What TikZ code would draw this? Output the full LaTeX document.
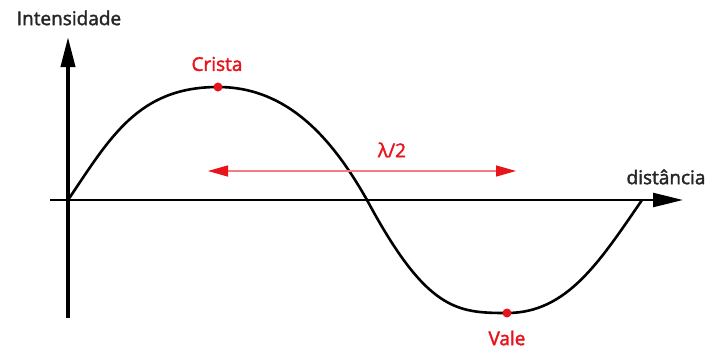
\documentclass[tikz,border=0pt]{standalone}
\usepackage{fontspec}
\setmainfont{Open Sans}
\newfontfamily\lblfont{Open Sans}[FakeBold=2]
\usetikzlibrary{arrows.meta}
\definecolor{wred}{HTML}{E8141B}
\definecolor{lred}{HTML}{F27C82}
\tikzset{
  lbl/.style={font=\lblfont\fontsize{19}{22}\selectfont, inner sep=0pt, text=black!85},
  redlbl/.style={lbl, text=wred},
  axis/.style={black, -{Triangle[length=30pt,width=14pt]}},
  dot/.style={circle, fill=wred, inner sep=0pt, minimum size=9pt},
}
\begin{document}
\begin{tikzpicture}[x=1pt,y=-1pt]
\useasboundingbox (0,0) rectangle (712,351);
\fill[white] (0,0) rectangle (712,351);
% axes
\coordinate (ybot) at (68,318);
\coordinate (ytop) at (68,37);
\coordinate (xl) at (50,200);
\coordinate (xr) at (683,200);
\draw[axis, line width=3.8pt] (ybot) -- (ytop);
\draw[axis, line width=2.4pt] (xl) -- (xr);
% wave
\coordinate (w0) at (68,200);
\coordinate (w1) at (218,87);
\coordinate (w2) at (367,200);
\coordinate (w3) at (507,313);
\coordinate (w4) at (642,200);
\draw[line width=2.6pt, line join=round]
  (w0) .. controls (110,137.8) and (138,87) .. (w1)
       .. controls (288,87) and (332.5,139.1) .. (w2)
       .. controls (426.6,311) and (457,313) .. (w3)
       .. controls (567,313) and (599.5,261.8) .. (w4);
% half wavelength arrow
\coordinate (la) at (208,171);
\coordinate (lb) at (516,171);
\draw[lred, line width=1.3pt, {Triangle[length=20pt,width=11pt,color=wred]}-{Triangle[length=20pt,width=11pt,color=wred]}] (la) -- (lb);
% dots
\node[dot] (crista) at (w1) {};
\node[dot] (vale) at (w3) {};
% labels
\node[lbl] (int) at (69,18) {Intensidade};
\node[lbl] (dist) at (666,177) {distância};
\node[redlbl] (tcrista) at (217,64) {Crista};
\node[redlbl] (tvale) at (507,338) {Vale};
\node[redlbl] (lam) at (392,150) {λ/2};
\end{tikzpicture}
\end{document}
